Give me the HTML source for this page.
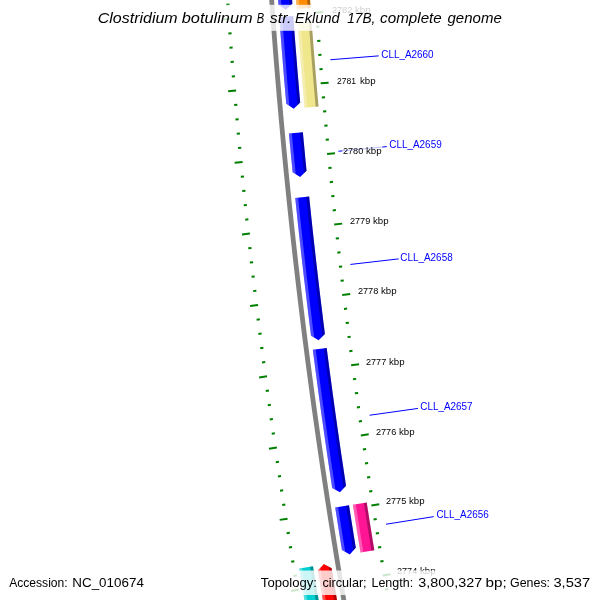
<!DOCTYPE html>
<html><head><meta charset="utf-8"><title>CGView map</title>
<style>
html,body{margin:0;padding:0;background:#fff;}
svg{display:block;will-change:transform;}
text{font-family:"Liberation Sans",sans-serif;}
.kb{font-size:8.3px;fill:#000;}
.gl{font-size:11.0px;fill:#0000ff;}
.ti{font-size:13.8px;font-style:italic;fill:#000;}
.ft{font-size:13.6px;fill:#000;}
</style></head><body>
<svg width="600" height="600" viewBox="0 0 600 600">
<rect width="600" height="600" fill="#fff"/>
<polyline points="267.20,-69.70 267.92,-57.63 268.66,-45.55 269.43,-33.48 270.22,-21.40 271.03,-9.33 271.87,2.74 272.73,14.81 273.62,26.88 274.53,38.94 275.46,51.00 276.42,63.06 277.40,75.12 278.41,87.18 279.44,99.24 280.50,111.29 281.58,123.34 282.68,135.39 283.80,147.44 284.96,159.48 286.13,171.52 287.33,183.56 288.55,195.60 289.80,207.63 291.07,219.67 292.36,231.70 293.68,243.72 295.02,255.75 296.39,267.77 297.78,279.79 299.19,291.81 300.63,303.82 302.10,315.83 303.58,327.84 305.09,339.84 306.63,351.84 308.18,363.84 309.76,375.84 311.37,387.83 313.00,399.82 314.65,411.80 316.33,423.79 318.03,435.77 319.76,447.74 321.50,459.71 323.28,471.68 325.07,483.65 326.89,495.61 328.74,507.57 330.61,519.52 332.50,531.47 334.41,543.42 336.35,555.36 338.32,567.30 340.30,579.23 342.31,591.17 344.35,603.09 346.40,615.02 348.49,626.93 350.59,638.85" fill="none" stroke="#808080" stroke-width="4.8"/>
<polygon points="273.18,-77.20 273.86,-65.48 274.56,-53.77 275.29,-42.05 276.04,-30.34 276.81,-18.63 277.61,-6.92 278.43,4.78 278.43,4.78 285.81,9.83 292.39,3.79 292.39,3.79 291.58,-7.89 290.78,-19.57 290.01,-31.25 289.26,-42.94 288.54,-54.62 287.83,-66.31 287.15,-78.00" fill="#0000ff" />
<polygon points="273.18,-77.20 273.86,-65.48 274.56,-53.77 275.29,-42.05 276.04,-30.34 276.81,-18.63 277.61,-6.92 278.43,4.78 278.43,4.78 281.48,6.88 281.32,4.58 280.50,-7.12 279.71,-18.83 278.94,-30.53 278.19,-42.24 277.46,-53.94 276.75,-65.65 276.07,-77.36" fill="#fff" fill-opacity="0.3"/>
<polygon points="284.26,-77.83 284.94,-66.14 285.64,-54.44 286.37,-42.75 287.12,-31.06 287.89,-19.37 288.68,-7.69 289.50,4.00 289.66,6.29 292.39,3.79 292.39,3.79 291.58,-7.89 290.78,-19.57 290.01,-31.25 289.26,-42.94 288.54,-54.62 287.83,-66.31 287.15,-78.00" fill="#000" fill-opacity="0.3"/>
<polygon points="279.31,17.09 280.11,27.93 280.93,38.78 281.77,49.62 282.63,60.46 283.51,71.30 284.41,82.14 285.33,92.97 286.26,103.81 286.26,103.81 293.72,108.73 300.21,102.59 300.21,102.59 299.28,91.78 298.36,80.97 297.46,70.16 296.59,59.34 295.73,48.53 294.89,37.71 294.08,26.89 293.28,16.07" fill="#0000ff" />
<polygon points="279.31,17.09 280.11,27.93 280.93,38.78 281.77,49.62 282.63,60.46 283.51,71.30 284.41,82.14 285.33,92.97 286.26,103.81 286.26,103.81 289.35,105.85 289.15,103.56 288.22,92.73 287.30,81.90 286.40,71.06 285.52,60.23 284.67,49.39 283.83,38.56 283.01,27.72 282.21,16.88" fill="#fff" fill-opacity="0.3"/>
<polygon points="290.38,16.28 291.18,27.11 292.00,37.93 292.84,48.75 293.70,59.57 294.57,70.39 295.47,81.21 296.39,92.03 297.32,102.84 297.52,105.13 300.21,102.59 300.21,102.59 299.28,91.78 298.36,80.97 297.46,70.16 296.59,59.34 295.73,48.53 294.89,37.71 294.08,26.89 293.28,16.07" fill="#000" fill-opacity="0.3"/>
<polygon points="288.93,133.50 289.83,143.16 290.75,152.83 291.68,162.49 292.62,172.15 292.62,172.15 300.14,176.99 306.55,170.77 306.55,170.77 305.61,161.13 304.68,151.49 303.77,141.85 302.87,132.21" fill="#0000ff" />
<polygon points="288.93,133.50 289.83,143.16 290.75,152.83 291.68,162.49 292.62,172.15 292.62,172.15 295.74,174.16 295.51,171.86 294.56,162.21 293.63,152.55 292.72,142.89 291.82,133.23" fill="#fff" fill-opacity="0.3"/>
<polygon points="299.98,132.48 300.88,142.12 301.80,151.77 302.72,161.41 303.67,171.06 303.90,173.35 306.55,170.77 306.55,170.77 305.61,161.13 304.68,151.49 303.77,141.85 302.87,132.21" fill="#000" fill-opacity="0.3"/>
<polygon points="295.23,198.01 296.43,209.50 297.65,220.99 298.89,232.47 300.15,243.96 301.43,255.44 302.73,266.92 304.06,278.39 305.41,289.87 306.78,301.34 308.17,312.80 309.59,324.27 311.02,335.73 311.02,335.73 318.67,340.37 324.91,333.98 324.91,333.98 323.48,322.54 322.07,311.10 320.68,299.66 319.31,288.22 317.97,276.77 316.64,265.32 315.34,253.87 314.06,242.42 312.80,230.96 311.57,219.50 310.35,208.04 309.16,196.57" fill="#0000ff" />
<polygon points="295.23,198.01 296.43,209.50 297.65,220.99 298.89,232.47 300.15,243.96 301.43,255.44 302.73,266.92 304.06,278.39 305.41,289.87 306.78,301.34 308.17,312.80 309.59,324.27 311.02,335.73 311.02,335.73 314.19,337.65 313.90,335.37 312.46,323.91 311.05,312.45 309.66,300.99 308.29,289.52 306.94,278.06 305.62,266.59 304.31,255.11 303.03,243.64 301.77,232.16 300.53,220.68 299.31,209.20 298.12,197.71" fill="#fff" fill-opacity="0.3"/>
<polygon points="306.27,196.87 307.47,208.34 308.68,219.81 309.92,231.27 311.18,242.73 312.46,254.19 313.76,265.65 315.09,277.11 316.43,288.56 317.80,300.01 319.19,311.46 320.60,322.90 322.03,334.34 322.32,336.62 324.91,333.98 324.91,333.98 323.48,322.54 322.07,311.10 320.68,299.66 319.31,288.22 317.97,276.77 316.64,265.32 315.34,253.87 314.06,242.42 312.80,230.96 311.57,219.50 310.35,208.04 309.16,196.57" fill="#000" fill-opacity="0.3"/>
<polygon points="312.82,349.81 314.31,361.33 315.82,372.86 317.36,384.37 318.92,395.89 320.50,407.40 322.11,418.91 323.73,430.42 325.38,441.92 327.05,453.43 328.74,464.92 330.46,476.42 332.19,487.91 332.19,487.91 339.95,492.35 346.03,485.80 346.03,485.80 344.30,474.34 342.59,462.87 340.90,451.40 339.24,439.93 337.59,428.45 335.97,416.97 334.37,405.49 332.79,394.00 331.24,382.51 329.70,371.02 328.19,359.52 326.70,348.02" fill="#0000ff" />
<polygon points="312.82,349.81 314.31,361.33 315.82,372.86 317.36,384.37 318.92,395.89 320.50,407.40 322.11,418.91 323.73,430.42 325.38,441.92 327.05,453.43 328.74,464.92 330.46,476.42 332.19,487.91 332.19,487.91 335.41,489.75 335.06,487.47 333.32,475.99 331.61,464.50 329.92,453.01 328.25,441.51 326.60,430.01 324.98,418.51 323.38,407.01 321.80,395.50 320.24,383.99 318.70,372.47 317.19,360.96 315.69,349.44" fill="#fff" fill-opacity="0.3"/>
<polygon points="323.83,348.39 325.32,359.90 326.83,371.40 328.36,382.90 329.92,394.39 331.50,405.88 333.10,417.37 334.72,428.86 336.37,440.34 338.03,451.82 339.72,463.30 341.43,474.77 343.17,486.24 343.51,488.51 346.03,485.80 346.03,485.80 344.30,474.34 342.59,462.87 340.90,451.40 339.24,439.93 337.59,428.45 335.97,416.97 334.37,405.49 332.79,394.00 331.24,382.51 329.70,371.02 328.19,359.52 326.70,348.02" fill="#000" fill-opacity="0.3"/>
<polygon points="335.20,507.46 336.86,518.12 338.55,528.78 340.25,539.44 341.98,550.09 341.98,550.09 349.78,554.45 355.80,547.85 355.80,547.85 354.08,537.22 352.38,526.58 350.69,515.95 349.03,505.31" fill="#0000ff" />
<polygon points="335.20,507.46 336.86,518.12 338.55,528.78 340.25,539.44 341.98,550.09 341.98,550.09 345.21,551.90 344.84,549.63 343.12,538.98 341.41,528.33 339.73,517.67 338.06,507.01" fill="#fff" fill-opacity="0.3"/>
<polygon points="346.17,505.76 347.83,516.40 349.51,527.04 351.21,537.68 352.93,548.31 353.30,550.58 355.80,547.85 355.80,547.85 354.08,537.22 352.38,526.58 350.69,515.95 349.03,505.31" fill="#000" fill-opacity="0.3"/>
<polygon points="291.05,-78.22 291.68,-67.31 292.34,-56.40 293.01,-45.49 293.70,-34.58 294.42,-23.67 295.15,-12.76 295.91,-1.85 296.68,9.05 310.64,8.05 309.87,-2.83 309.12,-13.71 308.39,-24.59 307.68,-35.48 306.98,-46.36 306.31,-57.25 305.66,-68.13 305.02,-79.02" fill="#ff8c00" />
<polygon points="291.05,-78.22 291.68,-67.31 292.34,-56.40 293.01,-45.49 293.70,-34.58 294.42,-23.67 295.15,-12.76 295.91,-1.85 296.68,9.05 299.57,8.84 298.80,-2.06 298.05,-12.96 297.31,-23.86 296.60,-34.76 295.90,-45.67 295.23,-56.57 294.58,-67.48 293.94,-78.39" fill="#fff" fill-opacity="0.3"/>
<polygon points="302.13,-78.86 302.76,-67.96 303.42,-57.07 304.09,-46.18 304.78,-35.29 305.49,-24.40 306.23,-13.52 306.98,-2.63 307.75,8.25 310.64,8.05 309.87,-2.83 309.12,-13.71 308.39,-24.59 307.68,-35.48 306.98,-46.36 306.31,-57.25 305.66,-68.13 305.02,-79.02" fill="#000" fill-opacity="0.3"/>
<polygon points="297.71,23.23 298.51,33.80 299.32,44.36 300.15,54.92 301.00,65.48 301.86,76.04 302.75,86.60 303.65,97.15 304.57,107.70 318.52,106.47 317.60,95.94 316.70,85.41 315.81,74.88 314.95,64.35 314.10,53.81 313.28,43.27 312.47,32.74 311.68,22.20" fill="#f0e68c" />
<polygon points="297.71,23.23 298.51,33.80 299.32,44.36 300.15,54.92 301.00,65.48 301.86,76.04 302.75,86.60 303.65,97.15 304.57,107.70 307.46,107.45 306.54,96.90 305.64,86.35 304.75,75.80 303.89,65.25 303.04,54.69 302.21,44.13 301.40,33.58 300.61,23.02" fill="#fff" fill-opacity="0.3"/>
<polygon points="308.78,22.41 309.57,32.96 310.38,43.50 311.21,54.04 312.06,64.58 312.92,75.12 313.81,85.66 314.71,96.19 315.63,106.73 318.52,106.47 317.60,95.94 316.70,85.41 315.81,74.88 314.95,64.35 314.10,53.81 313.28,43.27 312.47,32.74 311.68,22.20" fill="#000" fill-opacity="0.3"/>
<polygon points="352.89,504.71 354.38,514.29 355.89,523.87 357.42,533.45 358.96,543.02 360.52,552.60 374.34,550.34 372.78,540.79 371.25,531.23 369.72,521.68 368.21,512.12 366.72,502.56" fill="#ff1493" />
<polygon points="352.89,504.71 354.38,514.29 355.89,523.87 357.42,533.45 358.96,543.02 360.52,552.60 363.38,552.13 361.83,542.56 360.29,532.99 358.76,523.42 357.25,513.84 355.75,504.27" fill="#fff" fill-opacity="0.3"/>
<polygon points="363.85,503.01 365.35,512.57 366.86,522.13 368.38,531.69 369.92,541.25 371.48,550.80 374.34,550.34 372.78,540.79 371.25,531.23 369.72,521.68 368.21,512.12 366.72,502.56" fill="#000" fill-opacity="0.3"/>
<polygon points="332.74,656.57 330.81,645.84 328.91,635.10 327.02,624.36 325.15,613.62 323.31,602.87 321.48,592.12 319.67,581.36 317.88,570.60 317.88,570.60 323.88,563.96 331.69,568.32 331.69,568.32 333.48,579.05 335.28,589.78 337.11,600.51 338.95,611.23 340.81,621.95 342.69,632.67 344.59,643.38 346.51,654.09" fill="#ff0000" />
<polygon points="332.74,656.57 330.81,645.84 328.91,635.10 327.02,624.36 325.15,613.62 323.31,602.87 321.48,592.12 319.67,581.36 317.88,570.60 317.88,570.60 320.36,567.85 320.74,570.13 322.53,580.88 324.34,591.63 326.17,602.38 328.01,613.12 329.88,623.86 331.76,634.60 333.67,645.33 335.59,656.06" fill="#fff" fill-opacity="0.3"/>
<polygon points="343.66,654.61 341.74,643.89 339.84,633.17 337.96,622.45 336.09,611.73 334.25,601.00 332.42,590.27 330.62,579.53 328.83,568.79 328.45,566.51 331.69,568.32 331.69,568.32 333.48,579.05 335.28,589.78 337.11,600.51 338.95,611.23 340.81,621.95 342.69,632.67 344.59,643.38 346.51,654.09" fill="#000" fill-opacity="0.3"/>
<polygon points="299.19,568.53 301.08,579.95 303.00,591.36 304.93,602.78 306.88,614.18 308.86,625.59 310.86,636.99 312.88,648.39 314.92,659.78 328.70,657.30 326.66,645.93 324.65,634.56 322.65,623.19 320.68,611.81 318.73,600.42 316.80,589.04 314.89,577.65 313.01,566.25" fill="#00ced1" />
<polygon points="299.19,568.53 301.08,579.95 303.00,591.36 304.93,602.78 306.88,614.18 308.86,625.59 310.86,636.99 312.88,648.39 314.92,659.78 317.78,659.27 315.74,647.88 313.72,636.49 311.72,625.09 309.74,613.69 307.79,602.29 305.86,590.88 303.94,579.47 302.05,568.05" fill="#fff" fill-opacity="0.3"/>
<polygon points="310.15,566.72 312.03,578.12 313.94,589.52 315.87,600.91 317.82,612.30 319.80,623.68 321.79,635.06 323.81,646.44 325.85,657.81 328.70,657.30 326.66,645.93 324.65,634.56 322.65,623.19 320.68,611.81 318.73,600.42 316.80,589.04 314.89,577.65 313.01,566.25" fill="#000" fill-opacity="0.3"/>
<line x1="394.84" y1="645.38" x2="402.71" y2="643.97" stroke="#008000" stroke-width="2"/>
<line x1="311.38" y1="660.42" x2="303.51" y2="661.84" stroke="#008000" stroke-width="2"/>
<line x1="392.34" y1="631.43" x2="395.49" y2="630.87" stroke="#008000" stroke-width="2"/>
<line x1="308.85" y1="646.27" x2="305.70" y2="646.83" stroke="#008000" stroke-width="2"/>
<line x1="389.87" y1="617.47" x2="393.03" y2="616.91" stroke="#008000" stroke-width="2"/>
<line x1="306.35" y1="632.11" x2="303.20" y2="632.66" stroke="#008000" stroke-width="2"/>
<line x1="387.44" y1="603.50" x2="390.59" y2="602.95" stroke="#008000" stroke-width="2"/>
<line x1="303.88" y1="617.95" x2="300.73" y2="618.49" stroke="#008000" stroke-width="2"/>
<line x1="385.04" y1="589.53" x2="388.20" y2="588.99" stroke="#008000" stroke-width="2"/>
<line x1="301.45" y1="603.78" x2="298.29" y2="604.32" stroke="#008000" stroke-width="2"/>
<line x1="382.68" y1="575.55" x2="390.57" y2="574.22" stroke="#008000" stroke-width="2"/>
<line x1="299.05" y1="589.60" x2="291.16" y2="590.93" stroke="#008000" stroke-width="2"/>
<line x1="380.34" y1="561.56" x2="383.50" y2="561.04" stroke="#008000" stroke-width="2"/>
<line x1="296.68" y1="575.42" x2="293.53" y2="575.95" stroke="#008000" stroke-width="2"/>
<line x1="378.04" y1="547.57" x2="381.20" y2="547.06" stroke="#008000" stroke-width="2"/>
<line x1="294.35" y1="561.24" x2="291.19" y2="561.75" stroke="#008000" stroke-width="2"/>
<line x1="375.77" y1="533.58" x2="378.93" y2="533.07" stroke="#008000" stroke-width="2"/>
<line x1="292.05" y1="547.04" x2="288.89" y2="547.55" stroke="#008000" stroke-width="2"/>
<line x1="373.54" y1="519.58" x2="376.70" y2="519.08" stroke="#008000" stroke-width="2"/>
<line x1="289.78" y1="532.85" x2="286.62" y2="533.35" stroke="#008000" stroke-width="2"/>
<line x1="371.34" y1="505.57" x2="379.24" y2="504.34" stroke="#008000" stroke-width="2"/>
<line x1="287.55" y1="518.65" x2="279.65" y2="519.88" stroke="#008000" stroke-width="2"/>
<line x1="369.17" y1="491.56" x2="372.33" y2="491.08" stroke="#008000" stroke-width="2"/>
<line x1="285.35" y1="504.44" x2="282.19" y2="504.92" stroke="#008000" stroke-width="2"/>
<line x1="367.03" y1="477.55" x2="370.20" y2="477.07" stroke="#008000" stroke-width="2"/>
<line x1="283.19" y1="490.23" x2="280.02" y2="490.70" stroke="#008000" stroke-width="2"/>
<line x1="364.93" y1="463.53" x2="368.10" y2="463.06" stroke="#008000" stroke-width="2"/>
<line x1="281.05" y1="476.01" x2="277.89" y2="476.48" stroke="#008000" stroke-width="2"/>
<line x1="362.86" y1="449.50" x2="366.03" y2="449.04" stroke="#008000" stroke-width="2"/>
<line x1="278.95" y1="461.78" x2="275.79" y2="462.25" stroke="#008000" stroke-width="2"/>
<line x1="360.82" y1="435.47" x2="368.74" y2="434.33" stroke="#008000" stroke-width="2"/>
<line x1="276.89" y1="447.56" x2="268.97" y2="448.70" stroke="#008000" stroke-width="2"/>
<line x1="358.82" y1="421.44" x2="361.99" y2="420.99" stroke="#008000" stroke-width="2"/>
<line x1="274.86" y1="433.32" x2="271.69" y2="433.77" stroke="#008000" stroke-width="2"/>
<line x1="356.85" y1="407.40" x2="360.02" y2="406.96" stroke="#008000" stroke-width="2"/>
<line x1="272.86" y1="419.09" x2="269.69" y2="419.53" stroke="#008000" stroke-width="2"/>
<line x1="354.91" y1="393.35" x2="358.08" y2="392.92" stroke="#008000" stroke-width="2"/>
<line x1="270.89" y1="404.85" x2="267.72" y2="405.28" stroke="#008000" stroke-width="2"/>
<line x1="353.00" y1="379.30" x2="356.18" y2="378.88" stroke="#008000" stroke-width="2"/>
<line x1="268.96" y1="390.60" x2="265.79" y2="391.03" stroke="#008000" stroke-width="2"/>
<line x1="351.13" y1="365.25" x2="359.06" y2="364.20" stroke="#008000" stroke-width="2"/>
<line x1="267.06" y1="376.35" x2="259.13" y2="377.40" stroke="#008000" stroke-width="2"/>
<line x1="349.29" y1="351.19" x2="352.47" y2="350.78" stroke="#008000" stroke-width="2"/>
<line x1="265.20" y1="362.09" x2="262.02" y2="362.50" stroke="#008000" stroke-width="2"/>
<line x1="347.49" y1="337.13" x2="350.66" y2="336.73" stroke="#008000" stroke-width="2"/>
<line x1="263.37" y1="347.83" x2="260.19" y2="348.24" stroke="#008000" stroke-width="2"/>
<line x1="345.71" y1="323.06" x2="348.89" y2="322.67" stroke="#008000" stroke-width="2"/>
<line x1="261.57" y1="333.57" x2="258.39" y2="333.97" stroke="#008000" stroke-width="2"/>
<line x1="343.97" y1="308.99" x2="347.15" y2="308.61" stroke="#008000" stroke-width="2"/>
<line x1="259.80" y1="319.30" x2="256.63" y2="319.69" stroke="#008000" stroke-width="2"/>
<line x1="342.27" y1="294.92" x2="350.21" y2="293.97" stroke="#008000" stroke-width="2"/>
<line x1="258.07" y1="305.03" x2="250.13" y2="305.98" stroke="#008000" stroke-width="2"/>
<line x1="340.59" y1="280.84" x2="343.77" y2="280.47" stroke="#008000" stroke-width="2"/>
<line x1="256.38" y1="290.75" x2="253.20" y2="291.13" stroke="#008000" stroke-width="2"/>
<line x1="338.95" y1="266.76" x2="342.13" y2="266.39" stroke="#008000" stroke-width="2"/>
<line x1="254.71" y1="276.47" x2="251.53" y2="276.84" stroke="#008000" stroke-width="2"/>
<line x1="337.35" y1="252.67" x2="340.53" y2="252.31" stroke="#008000" stroke-width="2"/>
<line x1="253.08" y1="262.19" x2="249.90" y2="262.55" stroke="#008000" stroke-width="2"/>
<line x1="335.77" y1="238.58" x2="338.95" y2="238.23" stroke="#008000" stroke-width="2"/>
<line x1="251.48" y1="247.90" x2="248.30" y2="248.25" stroke="#008000" stroke-width="2"/>
<line x1="334.23" y1="224.49" x2="342.18" y2="223.63" stroke="#008000" stroke-width="2"/>
<line x1="249.92" y1="233.61" x2="241.97" y2="234.47" stroke="#008000" stroke-width="2"/>
<line x1="332.72" y1="210.39" x2="335.90" y2="210.06" stroke="#008000" stroke-width="2"/>
<line x1="248.39" y1="219.31" x2="245.21" y2="219.65" stroke="#008000" stroke-width="2"/>
<line x1="331.25" y1="196.29" x2="334.43" y2="195.96" stroke="#008000" stroke-width="2"/>
<line x1="246.90" y1="205.02" x2="243.71" y2="205.35" stroke="#008000" stroke-width="2"/>
<line x1="329.80" y1="182.19" x2="332.99" y2="181.87" stroke="#008000" stroke-width="2"/>
<line x1="245.43" y1="190.71" x2="242.25" y2="191.04" stroke="#008000" stroke-width="2"/>
<line x1="328.40" y1="168.08" x2="331.58" y2="167.77" stroke="#008000" stroke-width="2"/>
<line x1="244.01" y1="176.41" x2="240.82" y2="176.72" stroke="#008000" stroke-width="2"/>
<line x1="327.02" y1="153.97" x2="334.98" y2="153.20" stroke="#008000" stroke-width="2"/>
<line x1="242.61" y1="162.10" x2="234.65" y2="162.87" stroke="#008000" stroke-width="2"/>
<line x1="325.68" y1="139.86" x2="328.86" y2="139.56" stroke="#008000" stroke-width="2"/>
<line x1="241.25" y1="147.79" x2="238.06" y2="148.09" stroke="#008000" stroke-width="2"/>
<line x1="324.37" y1="125.74" x2="327.56" y2="125.45" stroke="#008000" stroke-width="2"/>
<line x1="239.92" y1="133.47" x2="236.74" y2="133.76" stroke="#008000" stroke-width="2"/>
<line x1="323.09" y1="111.62" x2="326.28" y2="111.34" stroke="#008000" stroke-width="2"/>
<line x1="238.63" y1="119.15" x2="235.44" y2="119.44" stroke="#008000" stroke-width="2"/>
<line x1="321.85" y1="97.50" x2="325.04" y2="97.22" stroke="#008000" stroke-width="2"/>
<line x1="237.37" y1="104.83" x2="234.18" y2="105.11" stroke="#008000" stroke-width="2"/>
<line x1="320.64" y1="83.37" x2="328.61" y2="82.70" stroke="#008000" stroke-width="2"/>
<line x1="236.14" y1="90.51" x2="228.17" y2="91.18" stroke="#008000" stroke-width="2"/>
<line x1="319.46" y1="69.24" x2="322.65" y2="68.98" stroke="#008000" stroke-width="2"/>
<line x1="234.95" y1="76.18" x2="231.76" y2="76.44" stroke="#008000" stroke-width="2"/>
<line x1="318.32" y1="55.11" x2="321.51" y2="54.86" stroke="#008000" stroke-width="2"/>
<line x1="233.79" y1="61.85" x2="230.60" y2="62.11" stroke="#008000" stroke-width="2"/>
<line x1="317.21" y1="40.98" x2="320.40" y2="40.73" stroke="#008000" stroke-width="2"/>
<line x1="232.66" y1="47.52" x2="229.47" y2="47.77" stroke="#008000" stroke-width="2"/>
<line x1="316.13" y1="26.84" x2="319.32" y2="26.60" stroke="#008000" stroke-width="2"/>
<line x1="231.57" y1="33.18" x2="228.38" y2="33.42" stroke="#008000" stroke-width="2"/>
<line x1="315.09" y1="12.70" x2="323.07" y2="12.12" stroke="#008000" stroke-width="2"/>
<line x1="230.51" y1="18.85" x2="222.53" y2="19.42" stroke="#008000" stroke-width="2"/>
<line x1="314.08" y1="-1.44" x2="317.27" y2="-1.66" stroke="#008000" stroke-width="2"/>
<line x1="229.49" y1="4.51" x2="226.30" y2="4.73" stroke="#008000" stroke-width="2"/>
<line x1="313.10" y1="-15.58" x2="316.29" y2="-15.80" stroke="#008000" stroke-width="2"/>
<line x1="228.50" y1="-9.84" x2="225.30" y2="-9.62" stroke="#008000" stroke-width="2"/>
<line x1="312.16" y1="-29.73" x2="315.35" y2="-29.94" stroke="#008000" stroke-width="2"/>
<line x1="227.54" y1="-24.18" x2="224.35" y2="-23.97" stroke="#008000" stroke-width="2"/>
<line x1="311.25" y1="-43.88" x2="314.44" y2="-44.08" stroke="#008000" stroke-width="2"/>
<line x1="226.62" y1="-38.53" x2="223.42" y2="-38.33" stroke="#008000" stroke-width="2"/>
<line x1="310.37" y1="-58.03" x2="318.36" y2="-58.51" stroke="#008000" stroke-width="2"/>
<line x1="225.73" y1="-52.88" x2="217.74" y2="-52.39" stroke="#008000" stroke-width="2"/>
<line x1="309.53" y1="-72.18" x2="312.72" y2="-72.37" stroke="#008000" stroke-width="2"/>
<line x1="224.87" y1="-67.23" x2="221.68" y2="-67.04" stroke="#008000" stroke-width="2"/>
<line x1="308.71" y1="-86.33" x2="311.91" y2="-86.51" stroke="#008000" stroke-width="2"/>
<line x1="224.05" y1="-81.58" x2="220.85" y2="-81.40" stroke="#008000" stroke-width="2"/>
<line x1="330.33" y1="59.76" x2="378.72" y2="55.86" stroke="#0000ff" stroke-width="1"/>
<text transform="translate(381.25 57.70) scale(0.9013 1)" class="gl" >CLL_A2660</text>
<line x1="338.41" y1="151.26" x2="386.73" y2="146.62" stroke="#0000ff" stroke-width="1"/>
<text transform="translate(389.25 147.70) scale(0.9033 1)" class="gl" >CLL_A2659</text>
<line x1="350.36" y1="264.45" x2="398.73" y2="258.88" stroke="#0000ff" stroke-width="1"/>
<text transform="translate(400.25 260.70) scale(0.9033 1)" class="gl" >CLL_A2658</text>
<line x1="369.66" y1="415.24" x2="417.92" y2="408.45" stroke="#0000ff" stroke-width="1"/>
<text transform="translate(420.25 409.70) scale(0.8998 1)" class="gl" >CLL_A2657</text>
<line x1="386.03" y1="524.24" x2="433.75" y2="516.63" stroke="#0000ff" stroke-width="1"/>
<text transform="translate(436.45 517.70) scale(0.8998 1)" class="gl" >CLL_A2656</text>
<rect x="409.30" y="634.20" width="40" height="11.5" fill="#fff" fill-opacity="0.75"/>
<text transform="translate(409.89 642.70) scale(1.1042 1)" class="kb" >2773</text>
<text transform="translate(432.92 642.70) scale(1.1680 1)" class="kb" >kbp</text>
<rect x="396.40" y="565.20" width="40" height="11.5" fill="#fff" fill-opacity="0.75"/>
<text transform="translate(396.99 573.70) scale(1.0965 1)" class="kb" >2774</text>
<text transform="translate(420.02 573.70) scale(1.1680 1)" class="kb" >kbp</text>
<rect x="385.30" y="495.20" width="40" height="11.5" fill="#fff" fill-opacity="0.75"/>
<text transform="translate(385.89 503.70) scale(1.1042 1)" class="kb" >2775</text>
<text transform="translate(408.92 503.70) scale(1.1680 1)" class="kb" >kbp</text>
<rect x="375.30" y="426.20" width="40" height="11.5" fill="#fff" fill-opacity="0.75"/>
<text transform="translate(375.89 434.70) scale(1.1042 1)" class="kb" >2776</text>
<text transform="translate(398.92 434.70) scale(1.1680 1)" class="kb" >kbp</text>
<rect x="365.30" y="356.20" width="40" height="11.5" fill="#fff" fill-opacity="0.75"/>
<text transform="translate(365.89 364.70) scale(1.1042 1)" class="kb" >2777</text>
<text transform="translate(388.92 364.70) scale(1.1680 1)" class="kb" >kbp</text>
<rect x="357.30" y="285.20" width="40" height="11.5" fill="#fff" fill-opacity="0.75"/>
<text transform="translate(357.89 293.70) scale(1.1042 1)" class="kb" >2778</text>
<text transform="translate(380.92 293.70) scale(1.1680 1)" class="kb" >kbp</text>
<rect x="349.30" y="215.20" width="40" height="11.5" fill="#fff" fill-opacity="0.75"/>
<text transform="translate(349.89 223.70) scale(1.1042 1)" class="kb" >2779</text>
<text transform="translate(372.92 223.70) scale(1.1680 1)" class="kb" >kbp</text>
<rect x="342.30" y="145.20" width="40" height="11.5" fill="#fff" fill-opacity="0.75"/>
<text transform="translate(342.89 153.70) scale(1.1042 1)" class="kb" >2780</text>
<text transform="translate(365.92 153.70) scale(1.1680 1)" class="kb" >kbp</text>
<rect x="336.30" y="75.20" width="40" height="11.5" fill="#fff" fill-opacity="0.75"/>
<text transform="translate(336.91 83.70) scale(1.0366 1)" class="kb" >2781</text>
<text transform="translate(359.92 83.70) scale(1.1680 1)" class="kb" >kbp</text>
<rect x="331.30" y="4.20" width="40" height="11.5" fill="#fff" fill-opacity="0.75"/>
<text transform="translate(331.89 12.70) scale(1.1042 1)" class="kb" >2782</text>
<text transform="translate(354.92 12.70) scale(1.1680 1)" class="kb" >kbp</text>
<rect x="324.30" y="-65.80" width="40" height="11.5" fill="#fff" fill-opacity="0.75"/>
<text transform="translate(324.89 -57.30) scale(1.1042 1)" class="kb" >2783</text>
<text transform="translate(347.92 -57.30) scale(1.1680 1)" class="kb" >kbp</text>
<rect x="93" y="4.8" width="414" height="26" fill="#fff" fill-opacity="0.8"/>
<rect x="4" y="570.5" width="144" height="24.5" fill="#fff" fill-opacity="0.8"/>
<rect x="256" y="570.5" width="338" height="24.5" fill="#fff" fill-opacity="0.8"/>
<text transform="translate(97.73 22.80) scale(1.1593 1)" class="ti" >Clostridium</text>
<text transform="translate(181.70 22.80) scale(1.1864 1)" class="ti" >botulinum</text>
<text transform="translate(256.70 22.80) scale(0.8060 1)" class="ti" >B</text>
<text transform="translate(269.86 22.80) scale(1.1556 1)" class="ti" >str.</text>
<text transform="translate(295.10 22.80) scale(1.0564 1)" class="ti" >Eklund</text>
<text transform="translate(347.13 22.80) scale(0.9953 1)" class="ti" >17B,</text>
<text transform="translate(380.09 22.80) scale(1.1020 1)" class="ti" >complete</text>
<text transform="translate(447.50 22.80) scale(1.0886 1)" class="ti" >genome</text>
<text transform="translate(9.19 586.90) scale(0.8899 1)" class="ft" >Accession:</text>
<text transform="translate(72.31 586.90) scale(0.9853 1)" class="ft" >NC_010674</text>
<text transform="translate(260.86 586.90) scale(0.9639 1)" class="ft" >Topology:</text>
<text transform="translate(322.44 586.90) scale(0.9286 1)" class="ft" >circular;</text>
<text transform="translate(371.48 586.90) scale(0.9183 1)" class="ft" >Length:</text>
<text transform="translate(418.37 586.90) scale(1.0543 1)" class="ft" >3,800,327</text>
<text transform="translate(485.62 586.90) scale(1.1200 1)" class="ft" >bp;</text>
<text transform="translate(510.03 586.90) scale(0.9143 1)" class="ft" >Genes:</text>
<text transform="translate(553.46 586.90) scale(1.0798 1)" class="ft" >3,537</text>
</svg>
</body></html>
